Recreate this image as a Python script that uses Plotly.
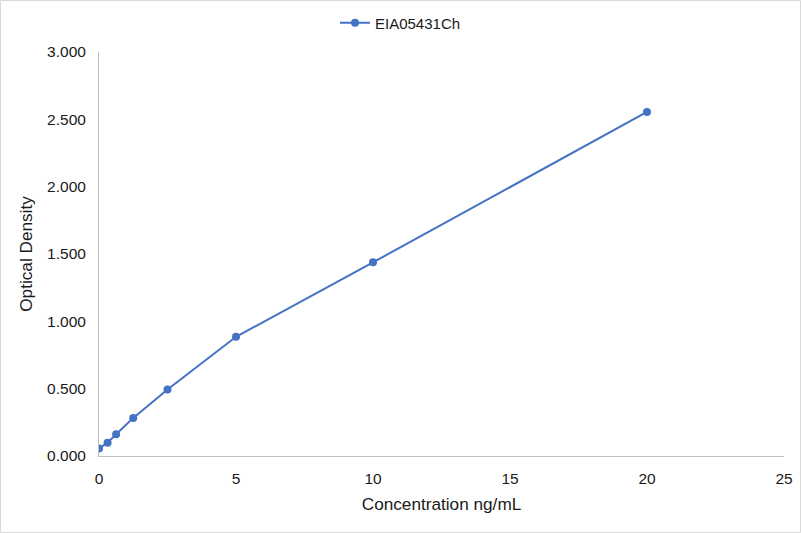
import plotly.graph_objects as go

# standard curve values
conc = [0, 0.3125, 0.625, 1.25, 2.5, 5, 10, 20]
od = [0.056, 0.098, 0.162, 0.283, 0.494, 0.885, 1.438, 2.555]
series_name = "EIA05431Ch"

x_ticks = [0, 5, 10, 15, 20, 25]
y_ticks = [0, 0.5, 1, 1.5, 2, 2.5, 3]

fig = go.Figure()
fig.add_trace(go.Scatter(x=conc, y=od, mode="lines+markers", name=series_name,
                         line=dict(color="#4472C4", width=2),
                         marker=dict(color="#4472C4", size=8)))

fig.update_layout(
    width=801, height=533,
    paper_bgcolor="white", plot_bgcolor="white",
    margin=dict(l=99, r=17, t=52, b=77, autoexpand=False),
    font=dict(family="Liberation Sans, Arial", size=15.5, color="#1a1a1a"),
    showlegend=True,
    legend=dict(orientation="h", x=0.5, xref="container", xanchor="center",
                y=0.988, yref="container", yanchor="top",
                bgcolor="rgba(0,0,0,0)", itemwidth=30,
                font=dict(size=15, color="#1a1a1a")),
    shapes=[dict(type="rect", xref="paper", yref="paper", x0=-98.5/685, x1=1+16.5/685,
                 y0=-76.5/404, y1=1+51.5/404, line=dict(color="#D9D9D9", width=1))],
)

fig.update_xaxes(range=[0, 25], tickvals=x_ticks, showgrid=False,
                 showline=True, linecolor="#BFBFBF", ticks="", zeroline=False,
                 ticklabelstandoff=8,
                 title=dict(text="Concentration ng/mL", standoff=12, font=dict(size=17.2)))
fig.update_yaxes(range=[0, 3], tickvals=y_ticks, tickformat=".3f",
                 showgrid=False, showline=True, linecolor="#BFBFBF", ticks="", zeroline=False,
                 ticklabelstandoff=9,
                 title=dict(text="Optical Density", standoff=10, font=dict(size=17.2)))

fig.write_html("out.html", config={"displayModeBar": False},
               post_script="document.body.style.margin='0';")
